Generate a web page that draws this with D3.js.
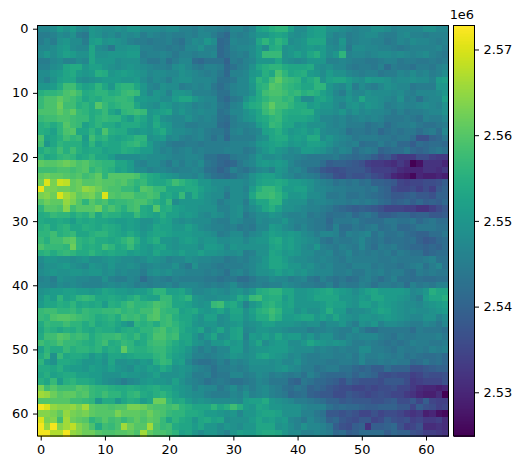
<!DOCTYPE html>
<html><head><meta charset="utf-8">
<script src="https://d3js.org/d3.v7.min.js"></script>
<style>html,body{margin:0;padding:0;background:#fff}svg{display:block}text{font-family:"DejaVu Sans",sans-serif;fill:#000}</style>
</head><body><svg id="c" width="524" height="470"></svg>
<script>
// Cell values, in thousands above 2 520 000.
const base = 2520000, unit = 1000;
const rows = [
[27,27,28,31,29,31,28,27,30,29,28,28,29,28,30,30,28,28,28,27,28,28,26,26,25,27,26,26,25,24,27,27,25,27,32,33,35,36,36,32,28,28,31,32,32,29,29,28,27,26,27,27,29,29,28,26,27,27,27,27,29,29,27,27],
[25,25,26,28,27,29,25,24,30,29,27,28,26,28,27,28,25,27,26,25,26,25,25,26,25,27,27,25,23,21,26,25,26,28,30,30,32,33,32,29,28,29,31,32,32,28,26,27,25,26,27,28,28,26,25,25,27,28,26,26,25,26,26,26],
[25,27,25,29,30,28,28,25,31,32,29,30,29,28,26,25,25,24,25,25,26,24,23,26,28,27,30,28,21,22,27,26,26,27,33,36,33,36,34,28,29,30,33,33,33,27,26,30,25,26,27,27,26,26,24,25,27,26,28,27,27,26,25,26],
[27,27,28,30,31,28,27,27,33,28,27,24,29,29,30,30,26,26,25,25,24,25,24,27,27,29,26,26,21,23,26,27,27,28,31,28,34,35,29,30,29,30,31,30,31,28,27,29,24,28,28,27,27,26,26,25,24,25,26,26,26,26,27,25],
[28,30,28,30,32,31,29,29,33,29,29,30,30,30,31,31,25,26,26,27,26,24,26,26,25,26,26,27,21,23,25,26,25,28,31,37,37,37,29,30,32,30,33,35,31,28,30,36,26,27,27,26,27,28,28,27,28,27,26,27,28,26,25,24],
[25,25,27,28,26,26,28,27,33,30,30,30,28,29,29,29,26,24,24,26,23,25,27,27,22,21,23,23,23,20,25,24,26,27,30,30,30,33,29,28,27,28,30,30,30,26,26,27,26,25,25,24,24,25,26,26,24,25,25,24,24,25,24,25],
[26,26,28,29,33,34,34,30,32,32,30,29,28,29,30,29,28,27,26,26,25,28,29,27,25,24,26,26,25,21,23,25,26,29,33,35,36,36,34,33,33,33,34,29,28,29,27,27,25,24,25,25,24,26,22,25,24,24,23,25,25,24,26,27],
[28,28,30,31,33,34,31,30,31,35,34,30,31,32,31,30,29,27,28,28,27,27,29,28,27,26,25,26,24,21,26,26,27,30,31,35,33,39,36,33,34,35,31,30,28,31,29,29,27,26,25,26,26,24,25,25,27,26,28,26,27,25,26,28],
[28,26,29,32,33,33,29,28,29,30,31,31,31,30,30,31,28,26,28,27,25,28,29,29,27,27,27,26,23,23,24,27,27,31,36,34,38,41,38,37,36,32,34,36,29,32,33,33,31,29,28,31,30,30,29,27,28,28,29,28,28,26,31,32],
[30,30,31,34,38,38,34,32,33,36,33,30,35,36,36,33,30,27,26,29,28,28,25,26,27,26,27,24,22,24,26,27,27,30,35,36,40,39,37,36,35,33,33,36,36,30,28,27,30,25,28,26,25,27,29,28,27,27,24,25,25,25,30,30],
[35,36,36,37,39,40,38,34,35,36,36,34,35,37,38,37,30,27,30,29,26,30,30,29,26,26,26,25,23,23,26,27,27,29,34,38,39,39,38,36,37,35,36,35,32,30,27,25,29,27,27,29,28,28,28,27,28,26,25,27,27,27,28,30],
[37,39,39,41,39,38,36,33,35,34,36,36,37,37,36,31,31,30,30,28,28,31,33,33,30,28,27,27,23,21,24,25,29,32,34,36,38,38,36,37,33,28,28,32,33,31,28,28,30,28,33,29,29,28,27,26,29,25,26,23,26,27,27,32],
[37,39,39,42,38,38,35,36,34,40,37,35,36,37,37,33,30,29,28,31,30,28,29,28,26,27,26,27,24,23,26,27,32,34,35,38,41,38,38,36,34,34,31,32,30,30,28,26,29,30,28,30,29,28,25,26,27,26,26,27,28,27,26,29],
[39,39,39,41,39,41,37,36,34,35,37,33,31,36,37,38,37,30,31,32,33,28,30,28,27,28,27,27,23,24,27,27,29,31,33,37,39,37,35,34,34,35,35,30,29,29,28,30,27,29,27,28,27,27,26,24,26,24,25,25,26,27,27,29],
[37,38,38,39,39,38,37,37,34,36,37,36,36,33,31,35,33,30,33,29,28,27,27,29,27,26,27,26,23,22,25,27,29,30,33,34,36,37,34,33,33,33,32,30,27,27,26,27,25,26,27,26,27,26,24,24,24,25,24,23,26,25,25,27],
[35,36,34,36,40,38,37,32,34,36,34,34,32,34,34,34,32,30,34,31,30,27,27,25,25,26,26,26,22,21,25,26,26,27,31,33,37,36,33,33,30,31,29,29,29,27,26,27,25,25,25,23,24,25,22,24,25,25,26,24,23,23,24,25],
[35,34,32,36,39,40,33,33,36,33,39,35,34,34,31,30,31,30,32,34,30,28,28,27,26,27,25,24,24,22,26,27,25,26,27,32,33,35,32,30,31,32,30,32,28,27,27,26,23,24,24,23,24,21,23,24,23,24,24,22,24,25,22,27],
[39,32,33,35,38,36,37,31,38,35,36,33,32,33,34,36,36,29,30,31,27,28,26,25,26,27,25,23,25,21,25,25,25,25,28,29,33,34,34,31,32,31,34,34,28,30,28,27,26,24,25,25,25,24,24,23,24,24,22,17,17,20,21,24],
[38,30,33,36,35,35,35,32,36,32,34,33,33,35,36,37,35,31,28,27,25,24,24,25,25,24,25,25,25,25,26,26,26,27,30,31,32,33,32,30,31,30,32,32,31,29,27,26,25,26,22,23,23,25,23,24,21,21,19,22,21,22,22,21],
[34,36,35,38,35,38,35,33,34,34,32,33,33,35,34,33,31,31,28,26,27,25,26,27,25,26,25,25,25,26,26,26,24,25,28,30,32,30,29,27,28,31,31,30,29,27,25,27,26,22,24,25,24,20,21,22,22,24,21,20,21,23,24,23],
[36,33,34,36,37,36,33,34,36,33,33,31,28,28,28,28,29,28,28,28,27,26,26,27,27,26,23,23,21,21,24,25,25,27,30,28,28,29,27,27,26,25,24,24,24,24,25,23,22,21,22,21,19,17,18,15,13,13,13,16,16,14,13,13],
[41,40,40,41,42,41,39,40,38,37,36,36,33,33,31,27,26,28,28,26,24,27,25,27,26,28,24,23,21,20,21,24,26,27,30,31,30,31,30,27,25,24,24,24,22,19,20,20,19,18,17,14,13,13,12,11,13,11,5,7,12,12,12,10],
[38,38,38,39,39,38,39,40,36,38,36,35,32,33,31,28,28,26,27,27,26,25,26,26,27,26,23,22,20,22,26,24,23,25,27,28,26,30,29,26,27,25,22,21,18,17,16,17,18,18,18,16,14,14,14,13,11,10,10,10,12,12,11,13],
[41,42,41,41,40,39,40,38,39,41,36,40,40,40,40,39,36,34,33,31,30,29,27,27,26,28,25,23,22,21,23,25,26,29,31,32,32,30,28,27,25,26,25,24,21,20,17,16,18,17,17,18,16,15,13,10,9,8,6,10,9,9,10,9],
[42,50,43,49,48,41,42,40,40,41,40,40,39,40,38,36,37,34,33,33,35,38,36,34,33,30,30,28,28,28,28,28,27,29,32,33,33,34,33,31,31,30,29,27,26,25,23,24,23,24,22,23,20,20,19,18,15,14,15,15,16,16,17,19],
[51,43,43,42,42,41,42,45,44,42,40,39,39,37,37,35,40,39,37,37,33,33,33,34,34,32,30,29,28,26,28,28,26,31,35,37,37,35,31,31,32,32,29,27,27,26,25,25,24,24,24,23,24,21,20,16,15,15,16,14,16,14,18,20],
[43,44,42,50,46,44,41,42,43,40,50,40,39,40,40,38,38,39,38,33,34,32,37,30,34,31,29,28,28,24,28,28,27,33,37,37,38,36,33,30,30,31,28,28,27,24,24,25,23,23,24,23,22,21,20,18,18,19,20,18,18,17,20,20],
[40,42,41,41,45,43,40,36,40,38,39,36,37,37,38,39,39,37,35,33,37,28,30,30,30,30,29,28,25,27,28,28,25,30,33,33,36,36,30,29,29,29,26,27,27,26,25,25,24,25,24,25,24,22,21,19,20,21,19,21,19,20,19,21],
[36,40,40,39,44,38,40,40,40,42,37,39,37,35,38,39,34,33,40,34,35,32,31,30,30,29,29,29,26,26,28,29,26,28,30,33,35,32,29,29,28,27,26,26,25,24,22,21,20,19,20,19,18,17,15,15,15,14,14,12,12,14,16,18],
[34,35,37,36,36,34,36,35,38,33,36,35,35,33,33,37,34,33,32,35,32,32,30,31,30,28,27,29,28,26,28,29,24,26,28,28,30,29,27,26,26,27,24,25,24,22,23,23,24,21,23,24,22,19,19,20,21,21,19,20,20,18,18,19],
[34,33,33,34,33,31,34,33,34,33,33,32,31,31,32,31,29,29,31,33,32,29,28,29,28,28,28,26,25,25,28,27,25,25,28,27,28,28,30,27,26,26,25,24,24,21,24,24,24,25,23,22,22,22,24,24,23,23,24,21,23,24,22,22],
[35,36,33,35,36,33,33,35,34,33,35,34,33,31,32,31,29,30,33,32,32,30,30,32,30,28,27,26,26,25,26,24,25,24,27,27,31,30,28,27,25,27,25,24,24,22,26,22,22,24,23,24,25,22,23,24,21,21,22,24,24,24,23,23],
[36,36,38,35,36,37,33,33,35,36,36,34,33,32,34,32,30,32,33,33,32,31,31,31,30,30,29,28,25,26,28,28,25,27,28,30,32,31,30,31,30,28,27,25,27,27,26,23,26,25,26,27,23,25,23,23,24,22,21,20,20,22,22,24],
[37,35,38,38,40,41,36,35,36,34,34,33,34,36,38,35,31,33,35,30,30,29,31,32,31,29,30,30,28,28,29,29,27,29,30,30,33,34,31,32,30,29,28,27,24,23,25,24,24,25,27,24,23,24,22,23,23,22,23,20,18,19,21,22],
[39,37,37,37,36,42,36,34,35,34,38,36,33,34,37,33,31,30,32,33,30,29,30,30,30,28,31,31,30,27,30,29,29,29,29,29,32,33,31,32,30,28,27,30,26,25,24,26,25,24,27,24,22,25,24,25,23,22,21,21,20,21,20,22],
[35,36,34,36,37,36,34,34,36,34,33,34,33,33,31,32,31,30,33,31,31,30,32,30,30,32,30,30,29,28,28,29,25,26,29,29,33,32,30,31,30,28,28,26,26,27,24,25,27,24,25,24,25,24,25,23,25,24,23,23,20,21,22,22],
[28,30,30,29,29,28,29,30,28,28,29,30,29,28,28,27,28,30,29,28,26,27,27,29,28,27,27,26,26,24,25,26,25,27,28,30,33,33,31,29,28,28,27,26,27,26,25,24,26,25,25,25,25,24,24,25,24,24,24,24,25,26,23,23],
[27,29,29,30,31,29,28,27,30,29,28,30,28,28,29,28,26,27,28,27,27,29,26,24,29,26,26,25,24,25,25,25,26,27,29,30,33,33,32,30,30,28,29,27,26,27,25,25,24,26,26,26,24,25,24,24,23,24,25,26,23,25,27,23],
[28,29,30,29,29,30,30,29,30,30,28,29,27,28,27,27,25,28,29,28,29,27,27,26,26,26,25,26,25,23,26,27,25,27,29,29,30,32,30,31,29,30,28,27,27,27,25,25,26,24,24,26,25,26,24,25,25,23,22,25,24,25,24,24],
[26,27,25,29,28,28,27,27,26,26,29,26,25,25,27,26,22,25,26,25,24,26,25,25,25,25,24,24,23,24,24,22,22,24,26,26,28,27,27,25,26,27,24,23,26,24,23,24,22,23,25,26,24,22,24,26,23,23,22,23,22,22,23,23],
[27,27,26,28,27,28,27,26,26,26,27,28,27,28,27,25,26,25,26,26,27,25,27,27,27,26,25,26,25,26,28,25,24,25,26,25,26,26,28,27,26,25,25,24,24,26,23,25,24,24,26,25,23,25,25,24,25,22,26,24,25,24,26,26],
[29,30,31,31,32,32,31,31,30,31,33,32,31,31,30,31,31,33,36,36,32,32,33,30,27,27,28,29,28,27,29,30,28,30,34,35,36,36,33,33,30,30,31,32,33,34,32,31,30,28,30,32,33,31,31,31,31,30,27,28,30,35,33,33],
[30,33,31,36,32,33,36,37,36,33,33,34,33,32,34,36,33,32,32,37,37,33,34,36,30,29,28,28,29,29,30,34,32,37,38,34,35,35,31,33,30,30,31,33,33,33,33,30,30,29,31,30,33,33,31,31,30,29,27,25,31,33,33,35],
[31,33,33,35,34,36,33,34,33,34,31,35,34,36,38,36,36,37,39,38,37,33,33,32,30,29,30,37,38,33,34,31,26,30,32,35,36,34,32,33,30,30,30,30,31,33,32,32,30,29,32,32,30,32,31,30,29,28,28,27,29,30,31,32],
[37,38,38,36,36,37,35,37,36,36,37,37,38,36,37,36,38,38,40,37,36,36,32,33,34,31,30,31,33,30,33,33,29,32,35,36,38,36,32,32,29,31,29,29,31,35,31,31,27,28,28,29,31,33,32,30,29,28,29,28,28,29,30,31],
[37,36,39,40,40,39,38,37,36,34,35,36,34,38,37,38,36,39,40,37,38,35,33,33,31,29,32,32,28,29,32,32,29,31,34,34,37,35,31,31,32,33,33,30,32,30,33,30,29,28,30,30,29,30,31,30,29,28,27,27,29,29,26,28],
[34,37,36,36,38,36,36,34,36,33,34,35,33,31,29,36,35,36,34,37,38,36,34,33,30,29,30,30,28,29,30,31,28,29,30,32,32,30,30,30,29,28,29,29,26,28,28,30,27,25,29,28,30,26,28,28,27,26,25,25,27,26,24,27],
[33,36,35,33,35,34,36,34,33,35,34,34,32,34,35,34,36,36,38,39,36,37,34,32,31,33,28,30,33,29,32,33,27,28,30,30,29,29,28,27,27,27,25,26,26,27,26,25,25,28,25,23,22,24,24,24,24,24,22,25,24,24,24,23],
[34,38,38,40,39,37,38,37,34,36,37,37,38,36,35,37,34,36,39,39,37,38,33,33,30,27,30,33,28,29,32,33,26,31,30,32,30,33,30,31,31,28,30,27,29,29,26,25,27,26,27,27,27,25,24,23,25,24,24,25,25,25,26,24],
[38,36,37,39,37,37,36,35,34,36,38,34,35,37,36,33,34,37,38,38,36,34,32,33,30,29,27,30,30,32,30,31,27,30,33,28,30,31,31,28,28,30,33,31,30,29,30,29,27,25,25,26,25,24,23,24,23,24,26,25,25,24,24,25],
[32,36,34,34,37,35,36,36,35,36,33,35,34,41,36,35,35,36,37,37,35,33,32,30,27,25,27,25,27,27,31,31,27,29,30,30,31,31,31,29,28,28,28,26,27,26,25,26,25,25,28,28,25,25,24,23,25,24,24,25,24,26,25,26],
[34,37,29,37,33,34,34,33,30,32,30,33,33,32,33,34,34,34,36,37,34,32,31,29,26,26,25,26,27,28,30,29,28,29,32,33,31,30,29,27,28,26,25,25,26,26,25,25,26,24,27,25,25,26,25,24,25,23,24,23,22,22,23,21],
[36,31,29,34,34,33,32,30,30,31,29,33,29,29,30,29,31,30,35,37,36,31,32,27,24,23,23,24,26,24,27,26,27,29,29,29,28,29,27,27,29,26,25,25,25,24,24,25,25,24,27,24,24,25,24,25,24,24,21,22,24,22,23,21],
[34,34,33,35,32,31,31,30,32,31,30,32,30,29,28,31,30,32,31,34,32,29,30,29,27,26,25,23,25,25,26,25,26,28,28,28,28,29,30,28,27,25,25,23,24,25,25,23,23,21,20,21,19,19,22,20,20,20,17,17,18,19,20,20],
[33,35,32,33,34,34,32,32,31,31,29,29,29,31,30,30,29,30,32,29,29,29,30,28,25,25,26,23,24,24,27,27,25,26,28,27,25,26,25,24,25,23,26,24,22,21,21,21,22,20,22,21,20,17,16,17,16,16,14,15,17,16,16,17],
[35,33,37,31,35,36,34,34,33,31,29,28,27,25,27,28,30,31,30,30,29,32,29,27,26,25,23,24,25,24,23,23,24,25,27,26,24,24,24,21,20,24,23,21,21,20,19,17,20,18,17,17,17,16,18,18,18,16,13,14,15,15,15,17],
[43,38,40,38,38,38,40,39,37,36,36,35,34,34,35,34,33,34,35,33,33,31,30,29,26,28,27,27,24,26,28,25,27,25,27,28,26,25,23,22,24,23,20,21,20,18,17,16,16,15,15,16,15,16,16,17,15,15,13,11,10,10,9,10],
[46,45,42,40,41,41,39,40,37,36,38,36,36,34,36,37,34,33,35,36,34,32,30,29,28,28,26,25,25,25,27,26,29,26,27,28,26,25,24,21,22,23,20,19,18,18,16,16,18,17,16,15,16,17,16,15,15,13,12,10,9,9,11,5],
[40,40,40,40,40,38,38,37,36,30,34,34,30,33,35,34,31,33,42,42,36,33,34,31,29,30,29,28,28,28,28,27,31,32,32,34,30,29,28,27,25,25,24,23,22,20,20,18,19,18,18,18,17,17,18,19,16,16,18,15,19,15,14,14],
[52,50,45,44,44,45,43,46,41,40,40,39,40,40,43,43,42,40,39,39,38,39,36,35,33,33,33,36,33,35,38,35,31,30,33,32,30,30,29,29,29,27,26,26,26,23,21,22,21,21,20,19,19,20,20,20,18,18,15,19,17,16,14,15],
[44,44,43,41,45,43,42,43,41,40,40,40,43,41,41,41,40,42,40,39,37,36,36,34,34,33,31,31,30,29,30,27,30,30,32,33,33,32,29,29,29,26,26,24,23,18,18,17,18,17,15,15,17,15,16,16,15,13,12,13,9,10,7,6],
[50,43,44,38,46,42,41,40,36,38,40,38,39,37,39,41,39,41,40,37,33,36,34,33,30,33,34,32,33,28,29,29,29,31,33,31,32,30,31,27,26,24,27,25,24,20,21,18,17,16,18,18,15,16,19,17,16,17,14,15,13,13,14,11],
[52,45,52,44,46,48,44,42,39,34,38,37,39,46,42,40,40,46,39,37,38,34,33,33,31,33,30,30,28,30,29,28,30,30,33,33,33,29,30,28,26,29,27,27,26,24,19,17,16,19,20,12,19,19,20,21,17,14,15,17,11,11,12,11],
[52,52,47,47,52,45,44,42,42,40,39,39,40,40,41,39,46,41,39,39,38,36,32,33,30,28,30,30,28,26,30,32,31,31,33,34,34,33,30,28,28,26,26,27,26,25,21,22,19,20,22,22,22,22,19,21,20,20,17,16,14,14,13,12]
];
const axisTicks = [0,10,20,30,40,50,60];
const barTicks = [2530000,2540000,2550000,2560000,2570000];
const barLabels = ["2.53","2.54","2.55","2.56","2.57"];
const colorDomain = [2524900,2572800];
const offsetLabel = "1e6";

const svg = d3.select("#c");
const L=37.5,R=448.5,T=25.5,B=436, BL=453.5,BR=474.5;
const fs=12.9;
const x=d3.scaleLinear().domain([-0.5,63.5]).range([L,R]);
const y=d3.scaleLinear().domain([-0.5,63.5]).range([T,B]);
const color=d3.scaleSequential(d3.interpolateViridis).domain(colorDomain).clamp(true);

const cells=rows.flatMap((r,i)=>r.map((v,j)=>({i,j,v:base+v*unit})));
svg.append("g").attr("shape-rendering","crispEdges").selectAll("rect").data(cells).join("rect")
 .attr("x",d=>x(d.j-0.5)).attr("y",d=>y(d.i-0.5))
 .attr("width",d=>x(d.j+0.5)-x(d.j-0.5)+0.5).attr("height",d=>y(d.i+0.5)-y(d.i-0.5)+0.5)
 .attr("fill",d=>color(d.v));

function style(g){g.selectAll("text").style("font-family",'"DejaVu Sans",sans-serif').style("font-size",fs+"px").attr("fill","#000");
 g.selectAll("line").attr("stroke","#000").attr("stroke-width",1);g.select(".domain").remove();}
svg.append("g").attr("transform",`translate(0,${B})`).call(d3.axisBottom(x).tickValues(axisTicks).tickSize(4.5).tickPadding(4.5).tickFormat(d3.format("d"))).call(style);
svg.append("g").attr("transform",`translate(${L},0)`).call(d3.axisLeft(y).tickValues(axisTicks).tickSize(4.5).tickPadding(4.5).tickFormat(d3.format("d"))).call(style);
svg.append("rect").attr("x",L).attr("y",T).attr("width",R-L).attr("height",B-T).attr("fill","none").attr("stroke","#000").attr("stroke-width",1);

const yb=d3.scaleLinear().domain(colorDomain).range([B,T]);
const strips=d3.range(256).map(k=>colorDomain[0]+(colorDomain[1]-colorDomain[0])*(k+0.5)/256);
const sh=(B-T)/256;
svg.append("g").attr("shape-rendering","crispEdges").selectAll("rect").data(strips).join("rect")
 .attr("x",BL).attr("width",BR-BL).attr("y",d=>yb(d)-sh/2).attr("height",sh+0.6).attr("fill",d=>color(d));
svg.append("g").attr("transform",`translate(${BR},0)`).call(d3.axisRight(yb).tickValues(barTicks).tickSize(4.5).tickPadding(4.5).tickFormat((d,i)=>barLabels[i])).call(style);
svg.append("rect").attr("x",BL).attr("y",T).attr("width",BR-BL).attr("height",B-T).attr("fill","none").attr("stroke","#000").attr("stroke-width",1);
svg.append("text").attr("x",BR-0.5).attr("y",T-7).attr("text-anchor","end").style("font-size",fs+"px").text(offsetLabel);
const bad=rows.map((r,i)=>[i,r.length]).filter(d=>d[1]!==64);if(bad.length)console.error("bad rows",JSON.stringify(bad),rows.length);
</script></body></html>
